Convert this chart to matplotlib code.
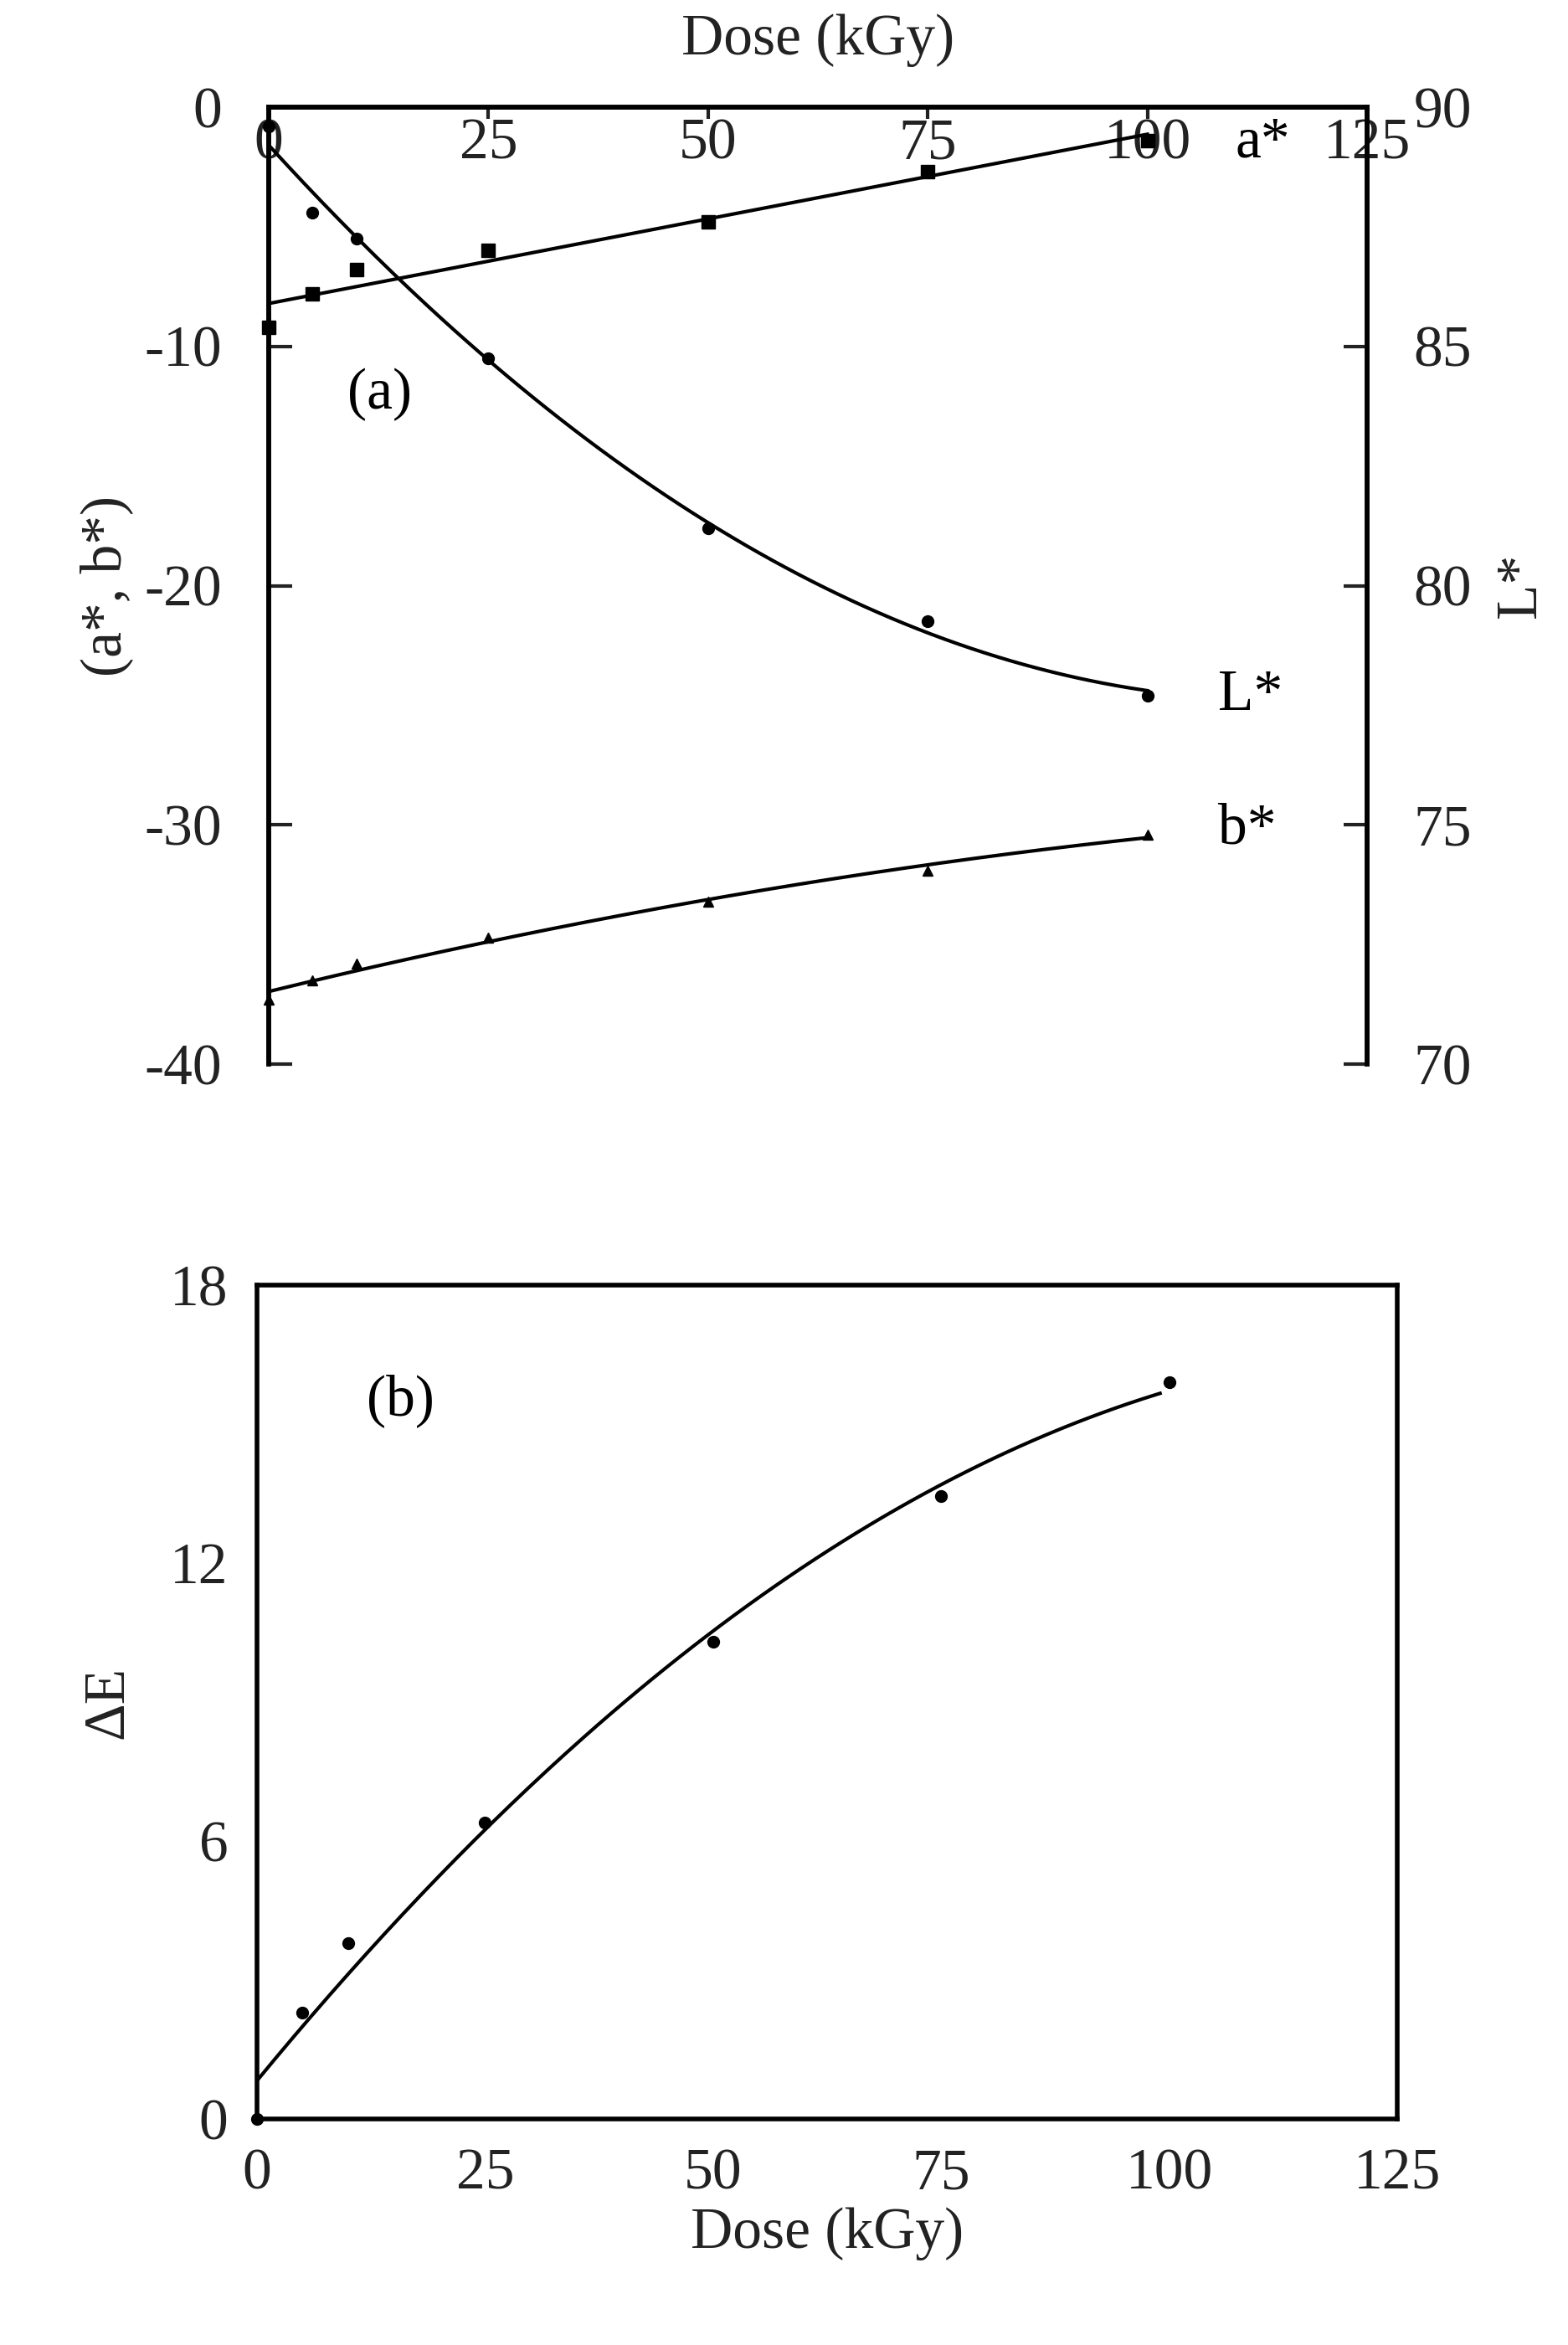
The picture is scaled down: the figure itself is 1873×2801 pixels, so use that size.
import numpy as np
import matplotlib
matplotlib.use('Agg')
import matplotlib.pyplot as plt

plt.rcParams['font.family'] = ['Liberation Serif', 'DejaVu Serif']
plt.rcParams['axes.unicode_minus'] = False

dose = [0, 5, 10, 25, 50, 75, 100]
a_star = [-9.2, -7.8, -6.8, -6.0, -4.8, -2.7, -1.4]
L_star = [89.6, 87.8, 87.25, 84.75, 81.2, 79.25, 77.7]
b_star = [-37.3, -36.5, -35.8, -34.7, -33.2, -31.9, -30.4]
dE = [0.0, 2.3, 3.8, 6.4, 10.3, 13.45, 15.9]

FS = 50
fig = plt.figure(figsize=(18.74, 28.01), dpi=100)
W, H = 1874, 2801
ax1 = fig.add_axes([321/W, 1 - 1271/H, (1633-321)/W, (1271-128)/H])
ax2 = fig.add_axes([307/W, 1 - 2531/H, (1669-307)/W, (2531-1535)/H])

xs = np.linspace(0, 100, 200)
x = np.array(dose, float)

# panel a
ax1.set_xlim(0, 125); ax1.set_ylim(-40, 0)
ax1r = ax1.twinx(); ax1r.set_ylim(70, 90)
ax1.plot(dose, a_star, 's', color='black', ms=11, clip_on=False)
pa = np.polyfit(x, a_star, 1)
ax1.plot(xs, np.polyval(pa, xs), color='black', lw=3)
ax1.plot(dose, b_star, '^', color='black', ms=9, clip_on=False)
pb = np.polyfit(x, b_star, 2)
ax1.plot(xs, np.polyval(pb, xs), color='black', lw=3)
ax1r.plot(dose, L_star, 'o', color='black', ms=10, clip_on=False)
pl = np.polyfit(x, L_star, 2)
ax1r.plot(xs, np.polyval(pl, xs), color='black', lw=3)

ax1.set_xticks([0, 25, 50, 75, 100, 125])
ax1.set_yticks([0, -10, -20, -30, -40])
ax1r.set_yticks([70, 75, 80, 85, 90])
ax1.tick_params(axis='x', direction='in', top=True, bottom=False, labeltop=True,
                labelbottom=False, pad=-55, length=10, width=3, labelsize=FS, colors='#222')
ax1.tick_params(axis='y', direction='in', length=20, width=3, labelsize=FS, pad=40, colors='#222')
ax1r.tick_params(axis='y', direction='in', length=20, width=3, labelsize=FS, pad=40, colors='#222')
for a in (ax1, ax1r):
    for s in a.spines.values():
        s.set_linewidth(4)
ax1.spines['bottom'].set_visible(False); ax1r.spines['bottom'].set_visible(False)
ax1.xaxis.set_label_position('top')
ax1.set_xlabel('Dose (kGy)', fontsize=FS, labelpad=45, color='#222')
ax1.set_ylabel('(a*, b*)', fontsize=FS, labelpad=10, color='#222')
ax1r.set_ylabel('L*', fontsize=FS, labelpad=20, color='#222')
ax1.text(110, -1.5, 'a*', fontsize=FS, ha='left', va='center')
ax1.text(108, -24.6, 'L*', fontsize=FS, ha='left', va='center')
ax1.text(108, -30.2, 'b*', fontsize=FS, ha='left', va='center')
ax1.text(9, -12, '(a)', fontsize=FS, ha='left', va='center')

# panel b
ax2.set_xlim(0, 125); ax2.set_ylim(0, 18)
ax2.plot(dose, dE, 'o', color='black', ms=10, clip_on=False)
pe = np.polyfit(x, dE, 2)
xs2 = np.linspace(0, 99, 200)
ax2.plot(xs2, np.polyval(pe, xs2), color='black', lw=3)
ax2.set_xticks([0, 25, 50, 75, 100, 125])
ax2.set_yticks([0, 6, 12, 18])
ax2.tick_params(direction='in', length=0, labelsize=FS, pad=25, colors='#222')
for s in ax2.spines.values():
    s.set_linewidth(4)
ax2.set_xlabel('Dose (kGy)', fontsize=FS, labelpad=5, color='#222')
ax2.set_ylabel('ΔE', fontsize=FS, labelpad=30, color='#222')
ax2.text(12, 15.5, '(b)', fontsize=FS, ha='left', va='center')

fig.savefig('out.png', dpi=100)
